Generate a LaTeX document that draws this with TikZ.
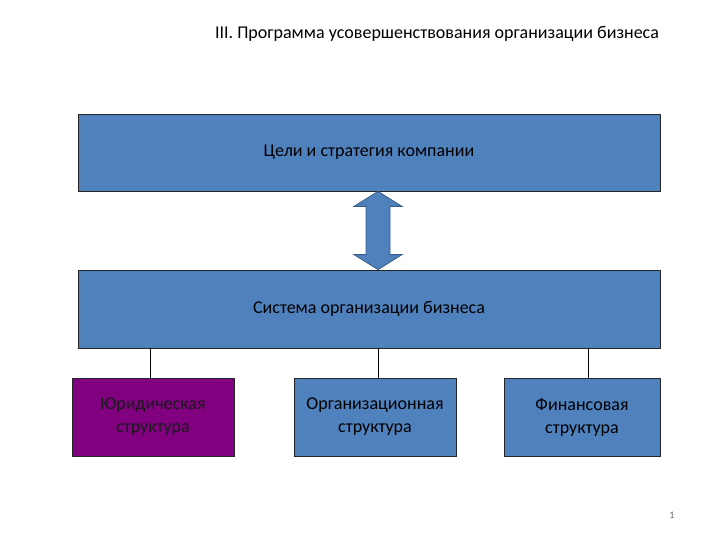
\documentclass[tikz,border=0pt]{standalone}
\usepackage{fontspec}
\setmainfont{Carlito}
\usetikzlibrary{positioning,calc}
\definecolor{slideblue}{HTML}{4F81BD}
\definecolor{slideedge}{HTML}{385D8A}
\definecolor{legalpurple}{HTML}{800080}
\tikzset{
  wide/.style={draw=black!85,line width=0.8pt,fill=slideblue,align=center,minimum width=582pt,minimum height=77pt,font=\fontsize{18}{22}\selectfont,inner sep=0pt},
  part/.style={draw=black!85,line width=0.8pt,fill=slideblue,align=center,minimum height=78pt,font=\fontsize{18}{23}\selectfont,inner sep=0pt},
  legal/.style={part,fill=legalpurple,text=black!90},
  link/.style={draw=black,line width=0.8pt},
  dblarrow/.style={draw=slideedge,line width=0.8pt,fill=slideblue,line join=miter}
}
\begin{document}
\begin{tikzpicture}[x=1pt,y=-1pt]
\useasboundingbox (0,0) rectangle (720,540);
\node (title) at (437,34) {\fontsize{18}{22}\selectfont III. Программа усовершенствования организации бизнеса};
\node[wide] (goals) at (369,152.5) {Цели и стратегия компании};
\node[wide,minimum height=78pt] (system) at (369,309) {Система организации бизнеса};
\node[legal,minimum width=162pt] (legalst) at (153,417) {Юридическая\\структура};
\node[part,minimum width=162pt] (orgst) at (375,417) {Организационная\\структура};
\node[part,minimum width=156pt] (finst) at (582,417) {Финансовая\\структура};
% two-way arrow between goals and system
\coordinate (up) at ($(goals.south)+(9,0)$);
\coordinate (down) at ($(system.north)+(9,0)$);
\draw[dblarrow] (up) -- ++(24,15) -- ++(-12,0) -- ($(down)+(12,-15)$) -- ++(12,0)
  -- (down) -- ++(-24,-15) -- ++(12,0) -- ($(up)+(-12,15)$) -- ++(-12,0) -- cycle;
% branches
\draw[link] ([xshift=-3pt]legalst.north) -- ([xshift=-3pt]legalst.north |- system.south);
\draw[link] ([xshift=3pt]orgst.north) -- ([xshift=3pt]orgst.north |- system.south);
\draw[link] ([xshift=6pt]finst.north) -- ([xshift=6pt]finst.north |- system.south);
\node[text=black!60,font=\fontsize{10}{12}\selectfont] (pagenum) at (672,515) {1};
\end{tikzpicture}
\end{document}
